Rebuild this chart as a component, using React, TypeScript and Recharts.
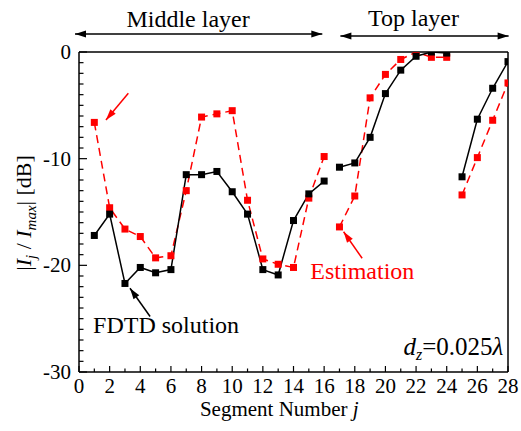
import React from 'react'
import { LineChart, Line, XAxis, YAxis, ReferenceLine, ReferenceDot } from 'recharts'

// segment numbers j and the two current distributions, in dB
const segmentNumbers = [1, 2, 3, 4, 5, 6, 7, 8, 9, 10, 11, 12, 13, 14, 15, 16, 17, 18, 19, 20, 21, 22, 23, 24, 25, 26, 27, 28]
const fdtd = [-17.2, -15.2, -21.7, -20.2, -20.7, -20.4, -11.5, -11.5, -11.2, -13.1, -15.2, -20.4, -20.9, -15.8, -13.3, -12.1, -10.8, -10.4, -8.0, -3.9, -1.7, -0.4, 0.0, -0.1, -11.7, -6.3, -3.4, -0.9]
const estimation = [-6.6, -14.6, -16.6, -17.3, -19.3, -19.1, -13.0, -6.1, -5.8, -5.5, -13.9, -19.4, -19.9, -20.2, -13.7, -9.8, -16.4, -13.5, -4.3, -2.1, -0.7, 0.0, -0.5, -0.5, -13.4, -9.9, -6.4, -2.9]
// the lines break between these groups of segments
const groups: [number, number][] = [[1, 16], [17, 24], [25, 28]]

const xTicks = [0, 1, 2, 3, 4, 5, 6, 7, 8, 9, 10, 11, 12, 13, 14, 15, 16, 17, 18, 19, 20, 21, 22, 23, 24, 25, 26, 27, 28]
const yTicks = [-30, -29, -28, -27, -26, -25, -24, -23, -22, -21, -20, -19, -18, -17, -16, -15, -14, -13, -12, -11, -10, -9, -8, -7, -6, -5, -4, -3, -2, -1, 0]

const FONT = '"Liberation Serif", "Times New Roman", serif'
const RED = '#ff0000'

const groupData = (values: number[], [from, to]: [number, number]) =>
  segmentNumbers.filter(j => j >= from && j <= to).map(j => ({ j, v: values[j - 1] }))

const square = (color: string) => (props: any) => (
  <rect key={`sq-${props.index}`} x={props.cx - 3.5} y={props.cy - 3.5} width={7} height={7} fill={color} />
)

const BottomTick = (props: any) => {
  const { x, y, payload } = props
  const major = payload.value % 2 === 0
  return (
    <g>
      <line x1={x} y1={y} x2={x} y2={y - (major ? 6 : 3.5)} stroke="#000" strokeWidth={1.2} />
      {major && (
        <text x={x} y={y + 21} textAnchor="middle" fontSize={21} style={{ fontFamily: FONT }} fill="#000">{payload.value}</text>
      )}
    </g>
  )
}

const TopTick = (props: any) => {
  const { x, y, payload } = props
  const major = payload.value % 2 === 0
  return <line x1={x} y1={y} x2={x} y2={y + (major ? 6 : 3.5)} stroke="#000" strokeWidth={1.2} />
}

const LeftTick = (props: any) => {
  const { x, y, payload } = props
  const major = payload.value % 10 === 0
  return (
    <g>
      <line x1={x} y1={y} x2={x + (major ? 8 : 4.5)} y2={y} stroke="#000" strokeWidth={1.2} />
      {major && (
        <text x={x - 8} y={y + 7} textAnchor="end" fontSize={21} style={{ fontFamily: FONT }} fill="#000">{payload.value}</text>
      )}
    </g>
  )
}

const RightTick = (props: any) => {
  const { x, y, payload } = props
  const major = payload.value % 10 === 0
  return <line x1={x} y1={y} x2={x - (major ? 8 : 4.5)} y2={y} stroke="#000" strokeWidth={1.2} />
}

const head = (x1: number, y1: number, x2: number, y2: number, len: number, half: number) => {
  const a = Math.atan2(y2 - y1, x2 - x1)
  const bx = x2 - len * Math.cos(a)
  const by = y2 - len * Math.sin(a)
  const px = -Math.sin(a) * half
  const py = Math.cos(a) * half
  return `${x2},${y2} ${bx + px},${by + py} ${bx - px},${by - py}`
}

const arrow = (color: string, both = false) => (p: any) => (
  <g>
    <line x1={p.x1} y1={p.y1} x2={p.x2} y2={p.y2} stroke={color} strokeWidth={1.5} />
    <polygon points={head(p.x1, p.y1, p.x2, p.y2, 11, 3.5)} fill={color} />
    {both && <polygon points={head(p.x2, p.y2, p.x1, p.y1, 11, 3.5)} fill={color} />}
  </g>
)

const note = (content: React.ReactNode, opts: { anchor?: string; size?: number; color?: string; rotate?: boolean } = {}) =>
  (p: any) => (
    <text
      x={p.cx}
      y={p.cy}
      textAnchor={opts.anchor ?? 'start'}
      fontSize={opts.size ?? 22}
      style={{ fontFamily: FONT }}
      fill={opts.color ?? '#000'}
      transform={opts.rotate ? `rotate(-90 ${p.cx} ${p.cy})` : undefined}
    >
      {content}
    </text>
  )

const axisLine = { stroke: '#000', strokeWidth: 1.5 }

export default function App() {
  return (
    <div style={{ position: 'absolute', left: 0, top: 0, width: 521, height: 431, background: '#fff' }}>
      <LineChart width={521} height={431} margin={{ top: 51, right: 12, bottom: 58, left: 78 }}>
        <XAxis dataKey="j" type="number" domain={[0, 28]} ticks={xTicks} interval={0} height={1}
          tickSize={0} tickMargin={0} tick={<BottomTick />} tickLine={false} axisLine={axisLine} allowDataOverflow />
        <XAxis xAxisId="top" orientation="top" type="number" domain={[0, 28]} ticks={xTicks} interval={0} height={1}
          tickSize={0} tickMargin={0} tick={<TopTick />} tickLine={false} axisLine={axisLine} />
        <YAxis type="number" domain={[-30, 0]} ticks={yTicks} interval={0} width={1}
          tickSize={0} tickMargin={0} tick={<LeftTick />} tickLine={false} axisLine={axisLine} allowDataOverflow />
        <YAxis yAxisId="right" orientation="right" type="number" domain={[-30, 0]} ticks={yTicks} interval={0} width={1}
          tickSize={0} tickMargin={0} tick={<RightTick />} tickLine={false} axisLine={axisLine} />

        {groups.map((g, i) => (
          <Line key={`est-${i}`} data={groupData(estimation, g)} dataKey="v" type="linear" stroke={RED}
            strokeWidth={1.5} strokeDasharray="8 5" dot={square(RED)} activeDot={false} isAnimationActive={false} />
        ))}
        {groups.map((g, i) => (
          <Line key={`fdtd-${i}`} data={groupData(fdtd, g)} dataKey="v" type="linear" stroke="#000"
            strokeWidth={1.5} dot={square('#000')} activeDot={false} isAnimationActive={false} />
        ))}

        {/* layer brackets above the plot */}
        <ReferenceLine segment={[{ x: -0.26, y: 1.69 }, { x: 15.88, y: 1.69 }]} ifOverflow="visible" shape={arrow('#000', true)} />
        <ReferenceLine segment={[{ x: 17.06, y: 1.5 }, { x: 28.04, y: 1.5 }]} ifOverflow="visible" shape={arrow('#000', true)} />
        <ReferenceDot x={7.12} y={2.39} r={0} ifOverflow="visible" shape={note('Middle layer', { anchor: 'middle', size: 24 })} />
        <ReferenceDot x={21.83} y={2.44} r={0} ifOverflow="visible" shape={note('Top layer', { anchor: 'middle', size: 24 })} />

        {/* annotations */}
        <ReferenceLine segment={[{ x: 3.22, y: -3.87 }, { x: 1.76, y: -6.375 }]} ifOverflow="visible" shape={arrow(RED)} />
        <ReferenceLine segment={[{ x: 4.64, y: -24.8 }, { x: 3.33, y: -22.15 }]} ifOverflow="visible" shape={arrow('#000')} />
        <ReferenceLine segment={[{ x: 18.48, y: -19.34 }, { x: 17.27, y: -16.85 }]} ifOverflow="visible" shape={arrow(RED)} />
        <ReferenceDot x={0.92} y={-26.37} r={0} ifOverflow="visible" shape={note('FDTD solution', { size: 24 })} />
        <ReferenceDot x={15.1} y={-21.3} r={0} ifOverflow="visible" shape={note('Estimation', { size: 24, color: RED })} />
        <ReferenceDot x={27.7} y={-28.4} r={0} ifOverflow="visible" shape={note(
          <>
            <tspan fontStyle="italic">d</tspan>
            <tspan fontStyle="italic" fontSize={16} dy={5}>z</tspan>
            <tspan dy={-5}>=0.025</tspan>
            <tspan fontStyle="italic">λ</tspan>
          </>, { anchor: 'end', size: 25 })} />

        {/* axis titles */}
        <ReferenceDot x={13.07} y={-34.1} r={0} ifOverflow="visible" shape={note(
          <>
            <tspan>Segment Number </tspan>
            <tspan fontStyle="italic">j</tspan>
          </>, { anchor: 'middle', size: 21 })} />
        <ReferenceDot x={-3.1} y={-15.09} r={0} ifOverflow="visible" shape={note(
          <>
            <tspan>|</tspan>
            <tspan fontStyle="italic">I</tspan>
            <tspan fontStyle="italic" fontSize={15} dy={5}>j</tspan>
            <tspan dy={-5}> / </tspan>
            <tspan fontStyle="italic">I</tspan>
            <tspan fontStyle="italic" fontSize={15} dy={5}>max</tspan>
            <tspan dy={-5}>| [dB]</tspan>
          </>, { anchor: 'middle', rotate: true })} />
      </LineChart>
    </div>
  )
}
